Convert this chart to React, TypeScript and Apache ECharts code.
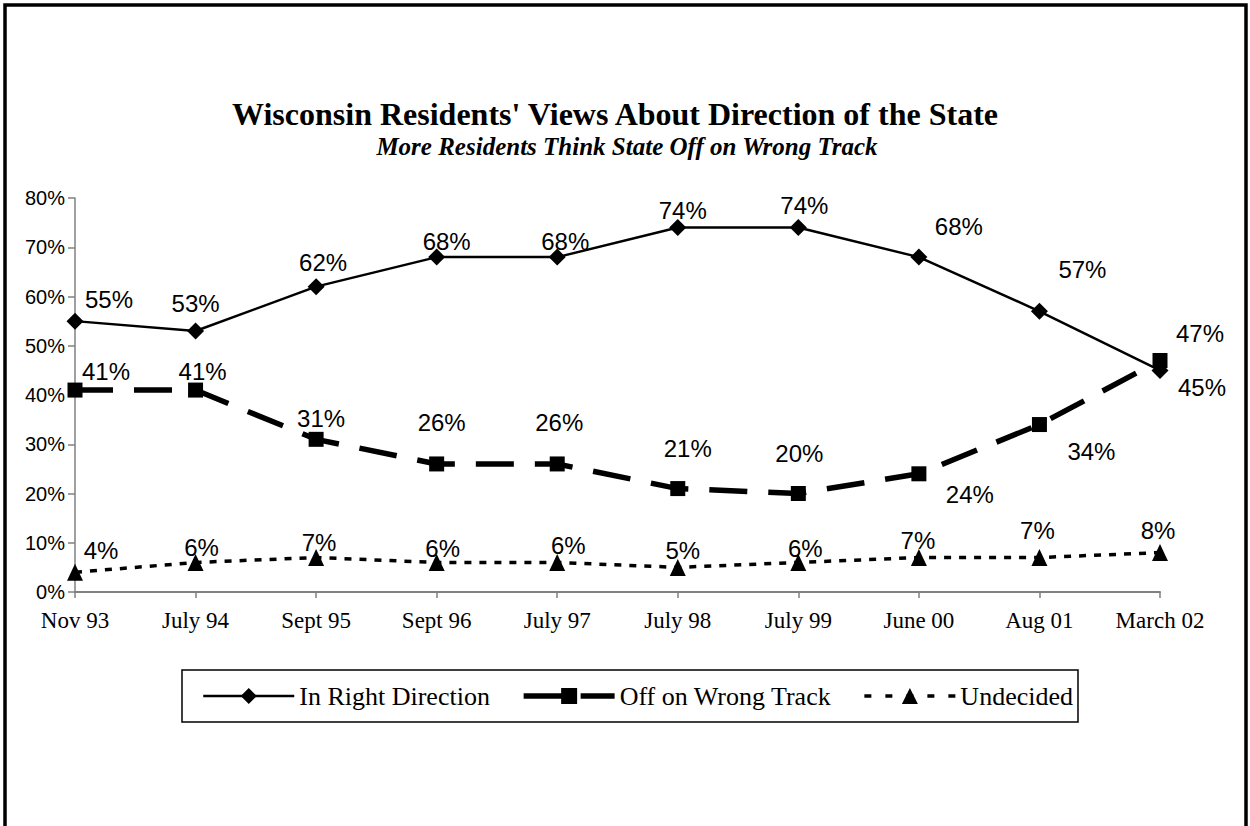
import React, { useEffect, useRef } from "react";
import * as echarts from "echarts";

const categories = ["Nov 93", "July 94", "Sept 95", "Sept 96", "July 97", "July 98", "July 99", "June 00", "Aug 01", "March 02"];
const rightDirection = [55, 53, 62, 68, 68, 74, 74, 68, 57, 45];
const wrongTrack = [41, 41, 31, 26, 26, 21, 20, 24, 34, 47];
const undecided = [4, 6, 7, 6, 6, 5, 6, 7, 7, 8];
const seriesNames = ["In Right Direction", "Off on Wrong Track", "Undecided"];
const titleText = "Wisconsin Residents' Views About Direction of the State";
const subtitleText = "More Residents Think State Off on Wrong Track";

// label placement offsets (layout only)
const rightOffsets = [[34, -22], [0, -27], [7, -24], [10, -16], [8, -16], [5, -17], [6, -22], [40, -31], [43, -42], [42, 17]];
const wrongOffsets = [[31, -19], [7, -19], [5, -21], [5, -41], [2, -41], [10, -40], [1, -40], [51, 21], [52, 27], [40, -27]];
const undecidedOffsets = [[26, -22], [6, -15], [3, -15], [6, -14], [11, -17], [5, -17], [7, -14], [-1, -17], [-2, -27], [-2, -22]];

const SANS = "Liberation Sans, Arial, sans-serif";
const SERIF = "Liberation Serif, Times New Roman, serif";

function withOffsets(values: number[], offsets: number[][]) {
  return values.map((v, i) => ({ value: v, label: { offset: offsets[i] } }));
}

export default function App() {
  const ref = useRef<HTMLDivElement>(null);
  useEffect(() => {
    if (!ref.current) return;
    const chart = echarts.init(ref.current, null, { renderer: "svg" });
    const labelBase = {
      show: true,
      position: "inside",
      formatter: "{c}%",
      fontFamily: SANS,
      fontSize: 24,
      color: "#000",
    };
    chart.setOption({
      animation: false,
      backgroundColor: "#fff",
      graphic: [
        {
          type: "rect",
          shape: { x: 5, y: 5, width: 1241, height: 1000 },
          style: { fill: "none", stroke: "#000", lineWidth: 3.5 },
          silent: true,
          z: -10,
        },
        {
          type: "text",
          x: 615,
          y: 114,
          style: { text: titleText, font: "bold 32px " + SERIF, fill: "#000", align: "center", verticalAlign: "middle" },
        },
        {
          type: "text",
          x: 627,
          y: 146,
          style: { text: subtitleText, font: "italic bold 25px " + SERIF, fill: "#000", align: "center", verticalAlign: "middle" },
        },
      ],
      grid: { left: 75, right: 90, top: 198, bottom: 234, containLabel: false },
      xAxis: {
        type: "category",
        data: categories,
        boundaryGap: false,
        axisLine: { lineStyle: { color: "#808080", width: 2 } },
        axisTick: { show: true, length: 6, lineStyle: { color: "#808080", width: 1.5 } },
        axisLabel: { color: "#000", fontFamily: SERIF, fontSize: 23, margin: 17 },
        splitLine: { show: false },
      },
      yAxis: {
        type: "value",
        min: 0,
        max: 80,
        interval: 10,
        axisLine: { show: true, lineStyle: { color: "#808080", width: 1.5 } },
        axisTick: { show: true, length: 7, lineStyle: { color: "#808080", width: 1.5 } },
        axisLabel: { color: "#000", fontFamily: SANS, fontSize: 20, margin: 10, formatter: "{value}%" },
        splitLine: { show: false },
      },
      legend: {
        left: 182,
        top: 670,
        padding: [13, 5, 13, 20],
        itemGap: 31,
        itemWidth: 91,
        itemHeight: 20,
        borderColor: "#000",
        borderWidth: 1.5,
        textStyle: { fontFamily: SERIF, fontSize: 26, color: "#000" },
        data: [
          { name: seriesNames[0], lineStyle: { width: 2.5, type: "solid", color: "#000" } },
          { name: seriesNames[1], lineStyle: { width: 5.5, type: [50, 7, 34, 10], color: "#000" } },
          { name: seriesNames[2], lineStyle: { width: 3.5, type: [7, 14], color: "#000" } },
        ],
      },
      series: [
        {
          name: seriesNames[0],
          type: "line",
          data: withOffsets(rightDirection, rightOffsets),
          symbol: "diamond",
          symbolSize: [17, 17],
          color: "#000",
          itemStyle: { color: "#000" },
          lineStyle: { color: "#000", width: 2.5, type: "solid" },
          label: labelBase,
          z: 3,
        },
        {
          name: seriesNames[1],
          type: "line",
          data: withOffsets(wrongTrack, wrongOffsets),
          symbol: "rect",
          symbolSize: [15, 15],
          color: "#000",
          itemStyle: { color: "#000" },
          lineStyle: { color: "#000", width: 5.5, type: [38, 21], cap: "butt" },
          label: labelBase,
          z: 2,
        },
        {
          name: seriesNames[2],
          type: "line",
          data: withOffsets(undecided, undecidedOffsets),
          symbol: "triangle",
          symbolSize: [16, 17],
          color: "#000",
          itemStyle: { color: "#000" },
          lineStyle: { color: "#000", width: 3.5, type: [7, 8], cap: "butt" },
          label: labelBase,
          z: 2,
        },
      ],
    });
    return () => chart.dispose();
  }, []);
  return (
    <div
      ref={ref}
      style={{ position: "fixed", left: 0, top: 0, width: 1250, height: 826, background: "#fff" }}
    />
  );
}
